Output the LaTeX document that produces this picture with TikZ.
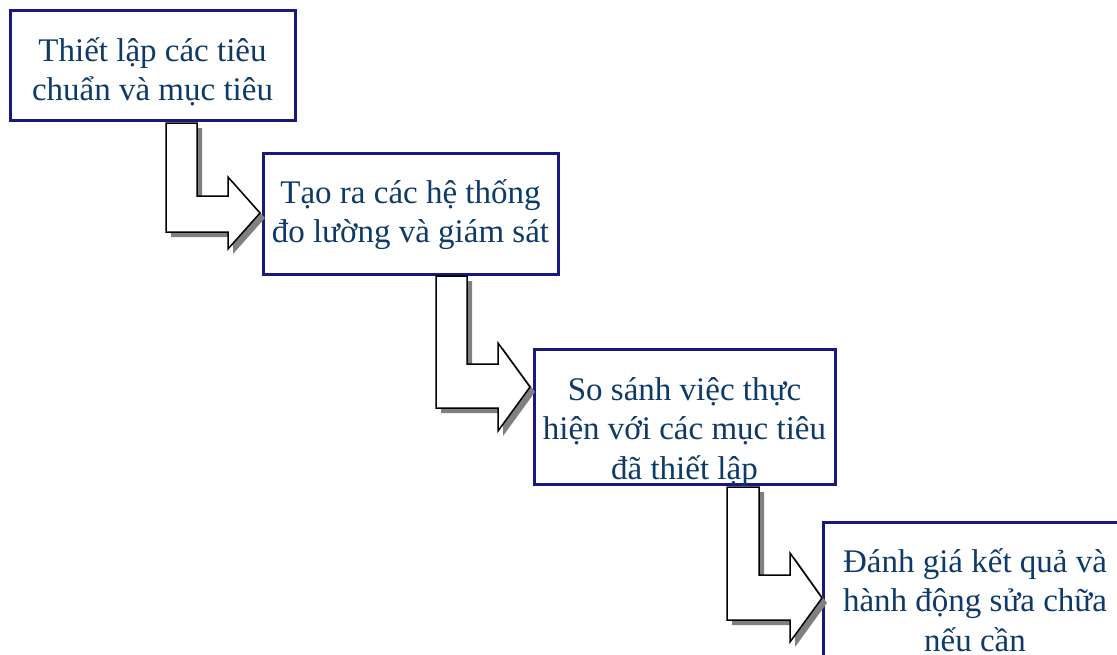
\documentclass[tikz,border=0pt]{standalone}
\usepackage{fontspec}
\setmainfont{Liberation Serif}
\usetikzlibrary{calc,shadows}
\definecolor{boxline}{RGB}{24,24,128}
\definecolor{inktext}{RGB}{14,58,106}
\definecolor{arrowshade}{RGB}{128,128,128}
\begin{document}
\begin{tikzpicture}[x=1pt,y=-1pt,
  stepbox/.style={draw=boxline, line width=3pt, fill=white, rectangle,
    inner sep=0pt, outer sep=0pt,
    drop shadow={shadow xshift=1.5pt, shadow yshift=-2pt, fill=boxline, opacity=1}},
  steptext/.style={text=inktext, font=\fontsize{33}{39.5}\selectfont,
    align=center, anchor=base, inner sep=0pt},
  turnarrow/.style={draw=black, line width=1.5pt, fill=white, line join=miter,
    drop shadow={shadow xshift=5pt, shadow yshift=-5pt, fill=arrowshade, opacity=1}}
]
\clip (0,0) rectangle (1117,654);
\fill[white] (0,0) rectangle (1117,654);

% the four steps
\node[stepbox, minimum width=285pt, minimum height=110pt] (s1) at (152.5,65) {};
\node[stepbox, minimum width=295pt, minimum height=121pt] (s2) at (410.5,213.5) {};
\node[stepbox, minimum width=301pt, minimum height=135pt] (s3) at (684.5,416.5) {};
\node[stepbox, minimum width=304pt, minimum height=135pt] (s4) at (975,589.5) {};

% texts, placed by the baseline of their last line
\node[steptext] (t1) at ($(s1.north)+(0,90.5)$) {Thiết lập các tiêu\\chuẩn và mục tiêu};
\node[steptext] (t2) at ($(s2.north)+(0,89.5)$) {Tạo ra các hệ thống\\đo lường và giám sát};
\node[steptext] (t3) at ($(s3.north)+(0,130)$) {So sánh việc thực\\hiện với các mục tiêu\\đã thiết lập};
\node[steptext] (t4) at ($(s4.north)+(0,129)$) {Đánh giá kết quả và\\hành động sửa chữa\\nếu cần};

% bent block arrows leading from one step down to the next
\draw[turnarrow] ($(s1.south west)+(156,3)$) -- ++(31,0) -- ++(0,73) -- ++(31,0)
  -- ++(0,-19) -- ($(s2.west)+(-3,-0.5)$) -- ++(-32,36) -- ++(0,-17) -- ++(-62,0) -- cycle;
\draw[turnarrow] ($(s2.south west)+(173,2)$) -- ++(31,0) -- ++(0,88) -- ++(31,0)
  -- ++(0,-21) -- ($(s3.west)+(-4,-29.5)$) -- ++(-32,44) -- ++(0,-23) -- ++(-62,0) -- cycle;
\draw[turnarrow] ($(s3.south west)+(193,3)$) -- ++(32,0) -- ++(0,88) -- ++(31,0)
  -- ++(0,-22) -- ($(s4.west)+(-1,8.5)$) -- ++(-32,44) -- ++(0,-22) -- ++(-63,0) -- cycle;
\end{tikzpicture}
\end{document}
